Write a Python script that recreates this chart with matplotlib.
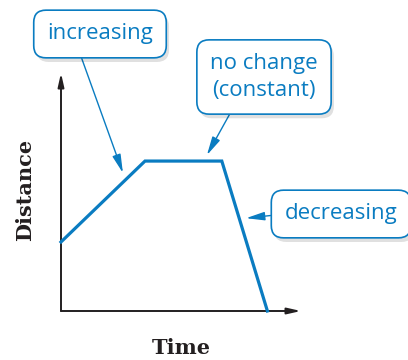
import matplotlib
matplotlib.use("Agg")
import matplotlib.pyplot as plt
import matplotlib.patheffects as pe

# piecewise distance-time graph (arbitrary units)
time = [0, 3.5, 6.7, 8.6]
distance = [2.9, 6.3, 6.3, 0]

labels = ["increasing", "no change\n(constant)", "decreasing"]
# where each callout arrow points (data units)
targets = [(2.58, 5.8), (6.08, 6.55), (7.71, 3.9)]

blue = "#0a7cc1"
dark = "#231f20"

W, H = 408, 360
fig = plt.figure(figsize=(W / 100, H / 100), dpi=100)
# axes placed in pixel space: x 61..301, y 73..311 (from top)
ax = fig.add_axes([61 / W, (H - 311) / H, 240 / W, 238 / H])
ax.set_xlim(0, 10)
ax.set_ylim(0, 10)
ax.set_xticks([])
ax.set_yticks([])
for s in ax.spines.values():
    s.set_visible(False)

# axes with arrow heads
arrow_kw = dict(arrowstyle="-|>,head_length=0.8,head_width=0.18", color=dark, lw=1.4,
                shrinkA=0, shrinkB=0)
ax.annotate("", xy=(1, 0), xytext=(0, 0), xycoords="axes fraction", arrowprops=arrow_kw)
ax.annotate("", xy=(0, 1), xytext=(0, 0), xycoords="axes fraction", arrowprops=arrow_kw)

ax.plot(time, distance, color=blue, lw=2.3, solid_joinstyle="miter", clip_on=False, zorder=3)

fig.text(25 / W, 1 - 190 / H, "Distance", rotation=90, ha="center", va="center",
         fontsize=15, fontweight="bold", family="DejaVu Serif", color=dark)
fig.text(181 / W, 1 - 348 / H, "Time", ha="center", va="center",
         fontsize=15, fontweight="bold", family="DejaVu Serif", color=dark)

# callout boxes: centre in pixels from top-left, relpos of arrow start
box_pos = [(100, 34), (264, 77), (341, 214)]
relpos = [(0.28, 0), (0.25, 0), (0, 0.5)]
for lab, (tx, ty), (bx, by), rp in zip(labels, targets, box_pos, relpos):
    a = ax.annotate(lab, xy=(tx, ty), xycoords="data",
                    xytext=(bx, H - by), textcoords="figure pixels",
                    ha="center", va="center", fontsize=16, color=blue,
                    family="Open Sans", linespacing=1.35,
                    bbox=dict(boxstyle="round,pad=0.6,rounding_size=0.55", fc="white",
                              ec=blue, lw=1.2),
                    arrowprops=dict(arrowstyle="-|>,head_length=0.7,head_width=0.16",
                                    color=blue, lw=1.0, relpos=rp, shrinkA=0, shrinkB=0))
    a.get_bbox_patch().set_path_effects([
        pe.SimplePatchShadow(offset=(2, -3), shadow_rgbFace="#000000", alpha=0.12),
        pe.Normal()])

fig.savefig("out.png", dpi=100)
